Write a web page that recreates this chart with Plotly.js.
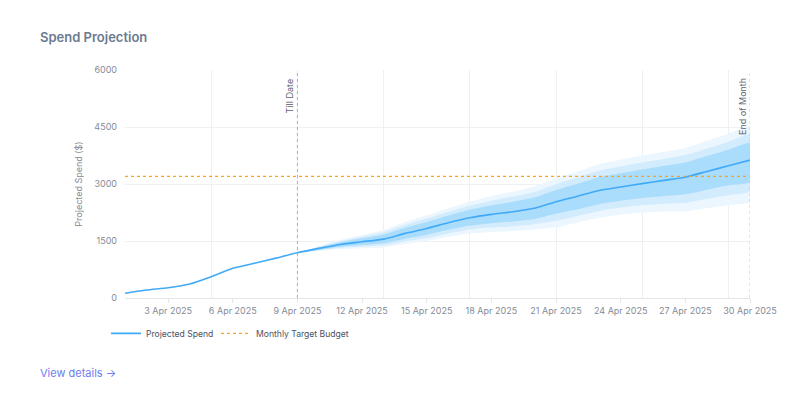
<!DOCTYPE html>
<html>
<head>
<meta charset="utf-8">
<script src="https://cdn.plot.ly/plotly-3.0.1.min.js"></script>
<style>
html,body{margin:0;padding:0;background:#fff;}
#chart{width:796px;height:396px;}
</style>
</head>
<body>
<div id="chart"></div>
<script>
const dates = ['2025-04-01','2025-04-02','2025-04-03','2025-04-04','2025-04-05','2025-04-06','2025-04-07','2025-04-08','2025-04-09','2025-04-10','2025-04-11','2025-04-12','2025-04-13','2025-04-14','2025-04-15','2025-04-16','2025-04-17','2025-04-18','2025-04-19','2025-04-20','2025-04-21','2025-04-22','2025-04-23','2025-04-24','2025-04-25','2025-04-26','2025-04-27','2025-04-28','2025-04-29','2025-04-30'];
const projectedSpend = [124,210,271,368,560,780,912,1050,1190,1305,1410,1480,1550,1700,1830,1980,2110,2200,2270,2360,2535,2680,2830,2920,3010,3095,3180,3330,3480,3630];
const bandDates = dates.slice(8);
const outerHi = [1190,1365,1530,1660,1790,2000,2175,2365,2535,2680,2800,2935,3150,3330,3520,3640,3750,3850,3950,4140,4325,4505];
const outerLo = [1190,1240,1290,1310,1330,1420,1500,1610,1700,1740,1760,1800,1860,1990,2110,2200,2250,2275,2280,2370,2450,2535];
const midHi   = [1190,1350,1500,1615,1730,1925,2090,2270,2430,2560,2670,2790,2995,3170,3350,3460,3565,3660,3760,3935,4115,4290];
const midLo   = [1190,1255,1320,1355,1385,1490,1580,1700,1805,1855,1890,1940,2030,2160,2290,2380,2440,2480,2505,2610,2705,2815];
const innerHi = [1190,1335,1470,1570,1670,1850,2000,2170,2320,2440,2535,2645,2840,3005,3175,3280,3380,3475,3565,3735,3900,4070];
const innerLo = [1190,1270,1350,1395,1440,1560,1665,1795,1905,1970,2015,2080,2215,2335,2470,2560,2630,2685,2730,2850,2965,3060];
const monthlyBudget = 3200;
const tickDates = ['2025-04-03','2025-04-06','2025-04-09','2025-04-12','2025-04-15','2025-04-18','2025-04-21','2025-04-24','2025-04-27','2025-04-30'];
const gridDates = ['2025-04-01','2025-04-05','2025-04-09','2025-04-13','2025-04-17','2025-04-21','2025-04-25','2025-04-29'];
const yTicks = [0,1500,3000,4500,6000];
const tillDate = '2025-04-09';
const endOfMonth = '2025-04-30';

function band(hi, lo, color){
  return {
    x: bandDates.concat(bandDates.slice().reverse()),
    y: hi.concat(lo.slice().reverse()),
    type:'scatter', mode:'lines', fill:'toself', fillcolor:color,
    line:{width:0, shape:'spline', smoothing:0.6}, showlegend:false, hoverinfo:'skip',
    xaxis:'x', yaxis:'y'
  };
}

const traces = [
  band(outerHi, outerLo, '#ebf6fe'),
  band(midHi, midLo, '#d2ecfd'),
  band(innerHi, innerLo, '#aadcfc'),
  {x:dates, y:projectedSpend, type:'scatter', mode:'lines', name:'Projected Spend', legend:'legend',
   line:{color:'#40aaf7', width:1.6, shape:'spline', smoothing:0.6}, xaxis:'x', yaxis:'y'},
  {x:[dates[0], dates[dates.length-1]], y:[monthlyBudget, monthlyBudget], type:'scatter', mode:'lines', legend:'legend2',
   name:'Monthly Target Budget', line:{color:'#f5a524', width:1.4, dash:'dot'}, xaxis:'x2', yaxis:'y'}
];

const gridColor = '#eef0f3';
const tickFont = {family:'Inter, sans-serif', size:9, color:'#858b96'};
const legendBase = {orientation:'h', xanchor:'left', y:-0.155, yanchor:'middle', font:{size:8.6, color:'#4b5263'},
          itemwidth:30, bgcolor:'rgba(0,0,0,0)'};
const layout = {
  width:796, height:396,
  margin:{l:125, r:46, t:70, b:98},
  paper_bgcolor:'#fff', plot_bgcolor:'#fff',
  font:{family:'Inter, "Noto Sans", sans-serif', size:9, color:'#858b96'},
  title:{text:'Spend Projection', x:40/796, xref:'container', xanchor:'left', y:1-37/396, yref:'container', yanchor:'middle',
         font:{family:'Inter, sans-serif', size:13, color:'#6c7a91', weight:600}},
  showlegend:true,
  legend:Object.assign({}, legendBase, {x:-19/625}),
  legend2:Object.assign({}, legendBase, {x:91/625}),
  xaxis:{type:'date', range:[dates[0], dates[dates.length-1]], tickvals:tickDates, tickformat:'%-d %b %Y',
         showgrid:false, zeroline:false, showline:true, linecolor:'#e4e6ea', linewidth:1,
         ticks:'outside', ticklen:4, tickcolor:'#e4e6ea', tickfont:tickFont, fixedrange:true},
  xaxis2:{type:'date', overlaying:'x', anchor:'y', side:'bottom', range:[dates[0], dates[dates.length-1]],
          tickvals:gridDates, showticklabels:false, showgrid:true, gridcolor:gridColor, gridwidth:1,
          zeroline:false, showline:false, ticks:''},
  yaxis:{range:[0,6000], tickvals:yTicks, showgrid:true, gridcolor:gridColor, zeroline:false, showline:false,
         ticks:'', ticklabelstandoff:7, tickfont:tickFont,
         title:{text:'Projected Spend ($)', font:{size:9, color:'#858b96'}, standoff:10}},
  shapes:[
    {type:'line', xref:'x', yref:'paper', x0:tillDate, x1:tillDate, y0:0, y1:1, line:{color:'#a9b0be', width:1, dash:'3px,3px'}},
    {type:'line', xref:'x', yref:'paper', x0:endOfMonth, x1:endOfMonth, y0:0, y1:1, line:{color:'#c3c8d2', width:1, dash:'3px,3px'}}
  ],
  annotations:[
    {text:'Till Date', xref:'x', yref:'paper', x:tillDate, y:1, xanchor:'right', yanchor:'top', textangle:-90,
     showarrow:false, xshift:0, yshift:-6, font:{size:9, color:'#5d6473'}},
    {text:'End of Month', xref:'x', yref:'paper', x:endOfMonth, y:1, xanchor:'right', yanchor:'top', textangle:-90,
     showarrow:false, xshift:0, yshift:-6, font:{size:9, color:'#5d6473'}},
    {text:'View details →', xref:'paper', yref:'paper', x:-87/625, y:-75/228, xanchor:'left', yanchor:'middle',
     showarrow:false, font:{size:11, color:'#6f7cf0'}}
  ]
};

Plotly.newPlot('chart', traces, layout, {displayModeBar:false, staticPlot:true});
</script>
</body>
</html>
